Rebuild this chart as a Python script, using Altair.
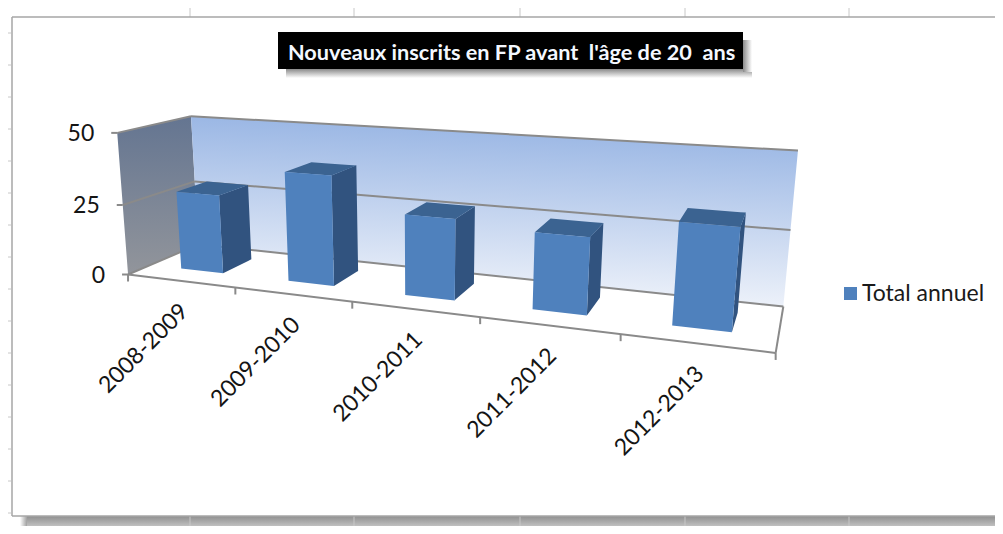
import altair as alt
import numpy as np

# ---- data
categories = ["2008-2009", "2009-2010", "2010-2011", "2011-2012", "2012-2013"]
values = [28, 38, 27, 25, 32]
series_name = "Total annuel"
title_text = "Nouveaux inscrits en FP avant\u00a0 l'âge de 20\u00a0 ans"
y_ticks = [0, 25, 50]
y_max = 50

FONT = "Lato"
BAR_W = 0.40   # share of a category
D0, D1 = 0.30, 0.74  # depth span of the bars

# ---- camera: (category share, depth, value share) -> page position, fitted to the box
calib = [
    ((0, 0, 0), (130, 273)), ((0, 0, .5), (122, 204)), ((0, 0, 1), (116, 133)),
    ((0, 1, 0), (196, 245)), ((0, 1, .5), (196, 182)), ((0, 1, 1), (192, 116)),
    ((1, 1, 0), (784, 305)), ((1, 1, .5), (790, 230)), ((1, 1, 1), (798, 151)),
    ((1, 0, 0), (776, 352)), ((.2, 0, 0), (236, 288)), ((.4, 0, 0), (352, 302)),
    ((.6, 0, 0), (480, 319)), ((.8, 0, 0), (620, 335)),
]
A, b = [], []
for (u, d, v), (px, py) in calib:
    A.append([u, d, v, 1, 0, 0, 0, 0, -px * u, -px * d, -px * v])
    b.append(px)
    A.append([0, 0, 0, 0, u, d, v, 1, -py * u, -py * d, -py * v])
    b.append(py)
P = np.linalg.lstsq(np.array(A, float), np.array(b, float), rcond=None)[0]


def proj(u, d, v):
    w = P[8] * u + P[9] * d + P[10] * v + 1
    return (float((P[0] * u + P[1] * d + P[2] * v + P[3]) / w),
            float((P[4] * u + P[5] * d + P[6] * v + P[7]) / w))


def poly_rows(points, key):
    """Convex polygon -> rows for an area mark (x, y, y2)."""
    xs = sorted({round(p[0], 2) for p in points})
    n = len(points)
    rows = []
    for x in xs:
        hits = []
        for i in range(n):
            (x0, y0), (x1, y1) = points[i], points[(i + 1) % n]
            lo, hi = min(x0, x1), max(x0, x1)
            if lo - 0.01 <= x <= hi + 0.01:
                if abs(x1 - x0) < 0.02:
                    hits += [y0, y1]
                else:
                    hits.append(y0 + (y1 - y0) * (x - x0) / (x1 - x0))
        rows.append({"x": x, "y": min(hits), "y2": max(hits), "key": key, "series": series_name})
    return rows


X = alt.X("x:Q", axis=None, scale=alt.Scale(domain=[8, 995], nice=False, zero=False))
Y = alt.Y("y:Q", axis=None, scale=alt.Scale(domain=[526, 8], nice=False, zero=False))


def area(rows, **mark):
    return alt.Chart(alt.Data(values=rows)).mark_area(**mark).encode(
        x=X, y=Y, y2="y2:Q", detail="key:N")


def lines(segments, color, width):
    rows = []
    for i, ((x0, y0), (x1, y1)) in enumerate(segments):
        rows += [{"x": x0, "y": y0, "key": i, "o": 0}, {"x": x1, "y": y1, "key": i, "o": 1}]
    return alt.Chart(alt.Data(values=rows)).mark_line(color=color, strokeWidth=width, clip=True).encode(
        x=X, y=Y, detail="key:N", order="o:Q")


def rect(x0, y0, x1, y1, **mark):
    return alt.Chart(alt.Data(values=[{"x": x0, "y": y0, "x2": x1, "y2": y1}])).mark_rect(**mark).encode(
        x=X, y=Y, x2="x2:Q", y2="y2:Q")


def fade(top, bottom, horizontal=False):
    g = dict(x1=0, y1=0, x2=1, y2=0) if horizontal else dict(x1=0, y1=0, x2=0, y2=1)
    return alt.Gradient(gradient="linear", stops=[alt.GradientStop(color=top, offset=0),
                                                  alt.GradientStop(color=bottom, offset=1)], **g)


layers = []

# ---- sheet behind the chart: shadow, frame, spreadsheet ticks
layers.append(rect(27, 516, 995, 526, color=fade("#8f8f8f", "#c0c0c0")))
layers.append(rect(20, 516, 27, 526, color=fade("#ffffff", "#a0a0a0", True)))
ticks = [[(x, 8), (x, 17)] for x in (190, 354, 520, 685, 849)]
ticks += [[(x, 516), (x, 526)] for x in (190, 354, 520, 685, 849)]
ticks += [[(8, y), (11, y)] for y in range(33, 517, 32)]
layers.append(lines(ticks, "#c8c8c8", 1))
layers.append(lines([[(12, 17), (995, 17)], [(12, 17), (12, 516)], [(12, 516), (995, 516)]], "#a6a6a6", 1.5))

# ---- title box with its shadow
layers.append(rect(286, 69, 752, 78, color=fade("#8a8a8a", "#ffffff")))
layers.append(rect(743, 40, 752, 72, color=fade("#8a8a8a", "#ffffff", True)))
layers.append(rect(278, 32, 743, 69, fill="#000000"))
layers.append(alt.Chart(alt.Data(values=[{"x": 288, "y": 52.5, "t": title_text}])).mark_text(
    font=FONT, fontSize=21.7, fontWeight="bold", color="#f4f8ff", align="left", baseline="middle"
).encode(x=X, y=Y, text="t:N"))

# ---- walls and floor
left_wall = [proj(0, 0, 0), proj(0, 1, 0), proj(0, 1, 1), proj(0, 0, 1)]
back_wall = [proj(0, 1, 0), proj(1, 1, 0), proj(1, 1, 1), proj(0, 1, 1)]
layers.append(area(poly_rows(left_wall, "left"),
                   color=fade("#647591", "#92959b")))
back_grad = alt.Gradient(gradient="linear", x1=0.56, y1=0, x2=0.44, y2=1,
                         stops=[alt.GradientStop(color="#95b3e3", offset=0),
                                alt.GradientStop(color="#f2f5fb", offset=1)])
layers.append(area(poly_rows(back_wall, "back"), color=back_grad))

grid = []
for t in y_ticks:
    v = t / y_max
    grid.append([proj(0, 0, v), proj(0, 1, v)])
    grid.append([proj(0, 1, v), proj(1, 1, v)])
    x, y = proj(0, 0, v)
    grid.append([(x - 6, y), (x, y)])
grid.append([proj(0, 0, 0), proj(1, 0, 0)])
grid.append([proj(1, 0, 0), proj(1, 1, 0)])
for i in range(len(categories) + 1):
    x, y = proj(i / len(categories), 0, 0)
    grid.append([(x, y), (x, y + 7)])
layers.append(lines(grid, "#8a8a8a", 2))

# ---- bars, built from the values through the camera
front, side, top = [], [], []
for i, val in enumerate(values):
    u0 = (i + .5 - BAR_W / 2) / len(values)
    u1 = (i + .5 + BAR_W / 2) / len(values)
    v = val / y_max
    front += poly_rows([proj(u0, D0, 0), proj(u1, D0, 0), proj(u1, D0, v), proj(u0, D0, v)], f"f{i}")
    side += poly_rows([proj(u1, D0, 0), proj(u1, D1, 0), proj(u1, D1, v), proj(u1, D0, v)], f"s{i}")
    top += poly_rows([proj(u0, D0, v), proj(u1, D0, v), proj(u1, D1, v), proj(u0, D1, v)], f"t{i}")

layers.append(area(side, color="#31537f"))
layers.append(area(top, color="#3b6391"))
layers.append(alt.Chart(alt.Data(values=front)).mark_area().encode(
    x=X, y=Y, y2="y2:Q", detail="key:N",
    color=alt.Color("series:N", scale=alt.Scale(range=["#4f81bd"]),
                    legend=alt.Legend(orient="none", legendX=831, legendY=274, title=None,
                                      symbolType="square", symbolSize=170, symbolStrokeWidth=0,
                                      labelFont=FONT, labelFontSize=23, labelColor="#1a1a1a",
                                      labelOffset=0))))

# ---- axis texts
y_rows = []
for t in y_ticks:
    x, y = proj(0, 0, t / y_max)
    y_rows.append({"x": x - 23, "y": y + 1, "t": str(t)})
layers.append(alt.Chart(alt.Data(values=y_rows)).mark_text(
    font=FONT, fontSize=23, color="#141414", align="right", baseline="middle"
).encode(x=X, y=Y, text="t:N"))

cat_rows = []
for i, c in enumerate(categories):
    x, y = proj((i + .5) / len(categories), 0, 0)
    cat_rows.append({"x": x + 4, "y": y + 27, "t": c})
layers.append(alt.Chart(alt.Data(values=cat_rows)).mark_text(
    font=FONT, fontSize=23, color="#141414", align="right", baseline="middle", angle=315
).encode(x=X, y=Y, text="t:N"))

chart = alt.layer(*layers).properties(
    width=987, height=518, padding=0, autosize=alt.AutoSizeParams(type="none"),
    background="#ffffff"
).configure_view(stroke=None)

chart.save("out.html", embed_options={"renderer": "svg", "actions": False})
